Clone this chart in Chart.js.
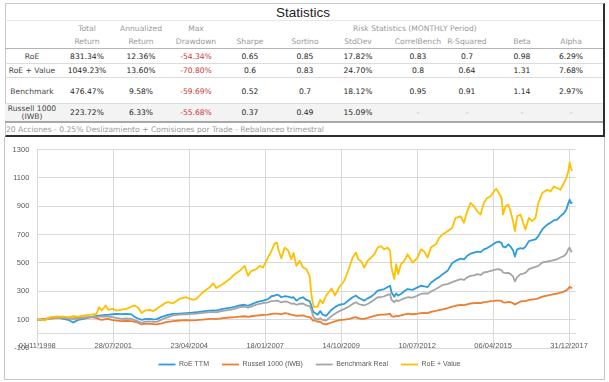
<!DOCTYPE html>
<html>
<head>
<meta charset="utf-8">
<script src="https://cdn.jsdelivr.net/npm/chart.js@4.4.1/dist/chart.umd.min.js"></script>
<style>
  html, body { margin:0; padding:0; background:#fff; width:609px; height:382px; overflow:hidden; }
  .t { position:absolute; font-family:"DejaVu Sans", sans-serif; font-size:7.6px; white-space:nowrap; text-align:center; }
  .hd { color:#9a9a9a; }
  .val { color:#1e1e1e; }
  .neg { color:#c93a3a; }
  .dash { color:#aaa; }
  .lbl { color:#444; }
  .ln { position:absolute; left:5px; width:598px; }
</style>
</head>
<body>
<div id="stats" style="position:absolute;left:5px;top:3px;width:597px;height:131px;border:1px solid #c8c8c8;border-right:2px solid #2e2e2e;border-bottom:2px solid #2e2e2e;"></div>
<div id="panel" style="position:absolute;left:4px;top:137px;width:599px;height:242px;border:1px solid #c4c4c4;border-top:none;"></div>
<div id="tbl"></div>
<canvas id="c" width="609" height="241" style="position:absolute;left:0;top:137px;"></canvas>
<script>
// ---------- table text ----------
const colX = [32, 87, 141, 196, 250, 305, 358, 418, 467, 522, 571];
const headTop = ['', 'Total', 'Annualized', 'Max', '', '', '', '', '', '', ''];
const headBottom = ['', 'Return', 'Return', 'Drawdown', 'Sharpe', 'Sortino', 'StdDev', 'CorrelBench', 'R-Squared', 'Beta', 'Alpha'];
const rowLabels = ['RoE', 'RoE + Value', 'Benchmark', 'Russell 1000<br>(IWB)'];
const statRows = [
  ['831.34%', '12.36%', '-54.34%', '0.65', '0.85', '17.82%', '0.83', '0.7', '0.98', '6.29%'],
  ['1049.23%', '13.60%', '-70.80%', '0.6', '0.83', '24.70%', '0.8', '0.64', '1.31', '7.68%'],
  ['476.47%', '9.58%', '-59.69%', '0.52', '0.7', '18.12%', '0.95', '0.91', '1.14', '2.97%'],
  ['223.72%', '6.33%', '-55.68%', '0.37', '0.49', '15.09%', '-', '-', '-', '-']
];
const footNote = '20 Acciones - 0.25% Deslizamiento + Comisiones por Trade - Rebalanceo trimestral';

// ---------- chart data ----------
const dates = [
 '1998-11-01','1998-12-20','1999-02-09','1999-04-16','1999-07-12','1999-10-08','1999-12-13','2000-02-16','2000-04-22','2000-07-19','2000-10-14','2000-12-20','2001-01-22','2001-02-24','2001-04-20','2001-05-22','2001-07-16','2001-09-09','2001-11-14','2002-01-18','2002-03-25','2002-05-08','2002-06-21','2002-08-07','2002-09-16','2002-11-21','2003-01-04','2003-02-20','2003-04-27','2003-06-06','2003-07-20','2003-09-23',
 '2003-12-16','2004-03-13','2004-06-09','2004-07-22','2004-10-18','2005-01-18','2005-03-03','2005-04-12','2005-07-09','2005-10-08','2005-12-13','2006-02-16','2006-04-23','2006-06-06','2006-07-20','2006-09-23','2006-11-06','2006-12-20','2007-02-24','2007-04-09','2007-05-22','2007-06-21','2007-07-16','2007-08-18','2007-10-01','2007-11-14','2007-12-27','2008-01-26','2008-03-03','2008-04-16','2008-05-30','2008-07-12','2008-08-25','2008-09-16','2008-10-08',
 '2008-10-23','2008-12-09','2009-01-11','2009-02-13','2009-03-29','2009-06-10','2009-07-23','2009-09-20','2009-11-24','2010-01-29','2010-03-14','2010-04-27','2010-05-26','2010-07-01','2010-08-14','2010-09-27','2010-11-10','2010-12-24','2011-02-06','2011-03-21','2011-05-04','2011-06-17','2011-07-20','2011-08-07','2011-09-13','2011-10-08','2011-11-03','2011-12-09','2012-01-22','2012-03-06','2012-05-11','2012-07-16','2012-08-29','2012-10-12','2012-11-25','2013-01-07','2013-03-14','2013-04-27','2013-06-10','2013-08-14',
 '2013-10-15','2013-11-28','2014-02-02','2014-03-18','2014-04-30','2014-06-13','2014-07-27','2014-09-09','2014-10-23','2014-12-05','2015-01-18','2015-03-03','2015-04-16','2015-05-15','2015-06-21','2015-07-27','2015-08-14','2015-09-16','2015-10-23','2015-11-21','2015-12-24','2016-01-18','2016-02-16','2016-04-01','2016-05-04','2016-06-06','2016-07-20','2016-09-02','2016-10-15','2016-11-21','2017-01-11','2017-03-18','2017-04-30','2017-06-13','2017-07-27','2017-09-09','2017-10-23','2017-11-25','2017-12-20','2018-01-07','2018-01-26','2018-02-09'
];
const roeTTM = [
 100,101,104,110,118,106,99,80,98,108,120,126,128,130,133,134,138,141,139,140,137,118,108,99,104,106,102,104,120,126,134,141,
 143,146,150,152,158,164,166,164,176,183,190,200,205,198,208,223,228,234,245,265,270,276,272,258,265,262,255,258,234,250,258,239,230,200,160,
 150,135,160,135,127,170,188,205,211,240,258,270,255,246,234,250,262,280,304,310,316,330,339,293,262,285,270,281,300,316,310,328,339,335,330,360,386,400,421,444,
 500,514,530,525,550,565,572,580,576,596,605,619,635,645,650,640,615,610,631,615,590,545,596,605,600,615,654,660,666,689,736,770,783,800,806,830,850,876,920,946,922,931
];
const russell1000 = [
 100,101,104,106,112,113,110,108,112,116,118,110,104,99,104,106,96,93,90,92,90,85,78,66,72,70,68,66,74,80,84,90,
 94,96,95,96,100,106,106,104,110,115,118,122,124,120,124,128,131,133,135,140,142,142,140,138,146,143,136,132,126,128,130,122,118,108,92,
 96,85,86,72,66,80,88,96,100,106,112,118,110,106,106,112,120,126,132,135,136,138,141,125,120,128,124,130,136,142,138,142,146,148,146,155,162,168,172,182,
 192,198,204,202,208,214,216,218,216,224,226,230,232,234,234,232,222,220,226,224,215,206,215,228,230,230,240,242,244,250,262,270,274,280,284,290,298,306,318,332,325,324
];
const benchmarkReal = [
 100,101,106,111,112,113,108,106,108,113,118,120,121,122,122,122,118,113,106,108,106,95,88,76,86,88,85,84,100,110,118,130,
 136,138,140,142,148,153,155,152,162,169,176,188,192,185,192,206,212,216,222,230,232,234,230,222,228,225,212,215,205,212,214,200,196,170,130,
 112,100,110,98,94,125,141,160,176,195,211,223,212,205,200,210,225,240,258,258,265,275,281,240,223,238,230,240,250,258,255,270,281,285,283,298,316,330,345,351,
 365,374,385,380,398,409,412,421,415,433,436,444,450,455,456,448,433,428,430,421,405,370,400,421,425,430,456,465,472,479,503,510,514,520,526,538,549,565,596,608,584,576
];
const roeValue = [
 100,101,94,118,122,121,118,125,122,130,136,141,188,164,200,169,176,164,170,176,192,200,183,146,164,169,160,176,200,216,223,215,
 246,258,239,245,293,328,356,323,351,386,421,444,479,409,444,456,479,468,538,584,636,643,584,533,608,590,526,570,479,514,468,456,409,281,210,
 188,192,240,215,270,320,270,330,374,468,538,573,526,514,468,514,538,561,608,619,596,608,584,468,386,491,421,491,514,561,503,538,596,580,538,608,631,678,701,724,
 748,818,829,783,864,923,900,864,841,923,958,970,1004,1023,993,958,841,900,911,864,794,724,829,841,783,736,818,794,818,923,993,1016,1004,1039,1028,1016,1063,1098,1144,1210,1168,1149
];
const seriesNames = ['RoE TTM', 'Russell 1000 (IWB)', 'Benchmark Real', 'RoE + Value'];
const yTicks = { min: -100, max: 1300, step: 200 };
const xTickStartDate = '1998-11-01';
const xTickStepDays = 1000;
const xTickCount = 8;
const xAxisEndDays = 7087;

// ---------- build table DOM ----------
const tbl = document.getElementById('tbl');
function put(html, cx, cy, cls, lh, align) {
  const d = document.createElement('div');
  d.className = 't ' + cls;
  d.innerHTML = html;
  lh = lh || 10;
  const lines = (html.match(/<br>/g) || []).length + 1;
  d.style.lineHeight = lh + 'px';
  d.style.top = (cy - lh * lines / 2) + 'px';
  if (align === 'left') { d.style.left = cx + 'px'; d.style.textAlign = 'left'; }
  else { d.style.left = (cx - 60) + 'px'; d.style.width = '120px'; }
  tbl.appendChild(d);
}
function hline(y, h, color) {
  const d = document.createElement('div');
  d.className = 'ln';
  d.style.top = y + 'px'; d.style.height = h + 'px'; d.style.background = color;
  tbl.appendChild(d);
}
(function(){ const d = document.createElement('div'); d.className='ln'; d.style.top='104px'; d.style.height='17px'; d.style.background='#f3f3f3'; tbl.appendChild(d); })();
hline(20, 1, '#e6e6e6');
hline(48, 1, '#b5b5b5');
hline(63, 1, '#dcdcdc');
hline(77, 1, '#dcdcdc');
hline(103, 1, '#dcdcdc');
hline(121, 2, '#a8a8a8');

const title = document.createElement('div');
title.textContent = 'Statistics';
title.style.cssText = 'position:absolute;left:203px;width:200px;text-align:center;top:5px;line-height:16px;font-family:"Liberation Sans",Arial,sans-serif;font-size:13.5px;color:#222;';
tbl.appendChild(title);

put('Risk Statistics (MONTHLY Period)', 413, 28.5, 'hd');
headTop.forEach((h, i) => { if (h) put(h, colX[i], 29, 'hd'); });
headBottom.forEach((h, i) => { if (h) put(h, colX[i], 42.3, 'hd'); });
const rowY = [56.7, 71, 91.7, 113];
rowLabels.forEach((l, r) => put(l, colX[0], rowY[r], 'lbl', l.includes('<br>') ? 8 : 10));
statRows.forEach((row, r) => row.forEach((v, i) => {
  const cls = v === '-' ? 'dash' : (v.startsWith('-') ? 'neg' : 'val');
  put(v, colX[i + 1], rowY[r], cls);
}));
put(footNote, 6, 130, 'hd', 10, 'left');

// ---------- chart ----------
const DAY = 86400000;
function toMs(s) { const p = s.split('-').map(Number); return Date.UTC(p[0], p[1] - 1, p[2]); }
const t0 = toMs(xTickStartDate);
const xs = dates.map(toMs);
function pts(arr) { return arr.map((v, i) => ({ x: xs[i], y: v })); }
function fmt(ms) {
  const d = new Date(ms);
  const dd = String(d.getUTCDate()).padStart(2, '0');
  const mm = String(d.getUTCMonth() + 1).padStart(2, '0');
  return dd + '/' + mm + '/' + d.getUTCFullYear();
}
const colors = ['#2E9CDB', '#ED7D31', '#A5A5A5', '#FFC000'];
const values = [roeTTM, russell1000, benchmarkReal, roeValue];
const gridColor = '#d9d9d9';
const tickFont = { family: '"Liberation Sans", Arial, sans-serif', size: 7.5 };

new Chart(document.getElementById('c'), {
  type: 'line',
  data: {
    datasets: values.map((arr, i) => ({
      label: seriesNames[i],
      data: pts(arr),
      borderColor: colors[i],
      backgroundColor: colors[i],
      borderWidth: 1.8,
      pointRadius: 0,
      tension: 0,
      order: 3 - i,
      borderJoinStyle: 'round'
    }))
  },
  options: {
    responsive: false,
    animation: false,
    devicePixelRatio: 1,
    layout: { padding: { left: 10, right: 0, top: 10.7, bottom: 0 } },
    plugins: {
      tooltip: { enabled: false },
      legend: {
        position: 'bottom',
        labels: {
          usePointStyle: true,
          pointStyle: 'line',
          pointStyleWidth: 17,
          boxHeight: 7,
          padding: 13,
          color: '#595959',
          font: { family: '"Liberation Sans", Arial, sans-serif', size: 7 },
          sort: (a, b) => a.datasetIndex - b.datasetIndex
        }
      }
    },
    scales: {
      x: {
        type: 'linear',
        position: { y: 0 },
        min: t0,
        max: t0 + xAxisEndDays * DAY,
        afterBuildTicks: (s) => {
          s.ticks = Array.from({ length: xTickCount }, (_, k) => ({ value: t0 + k * xTickStepDays * DAY }));
        },
        ticks: {
          autoSkip: false, maxRotation: 0, minRotation: 0, padding: 8,
          color: '#595959', font: tickFont,
          callback: (v) => fmt(v)
        },
        grid: { color: gridColor, drawTicks: false, lineWidth: 1 },
        border: { color: gridColor }
      },
      y: {
        min: yTicks.min, max: yTicks.max,
        ticks: { stepSize: yTicks.step, padding: 8, color: '#595959', font: tickFont, callback: (v) => String(v) },
        grid: { color: gridColor, drawTicks: false, lineWidth: 1 },
        border: { color: gridColor },
        afterFit: (s) => { s.width = 27.3; }
      },
      yRight: {
        position: 'right',
        ticks: { display: false },
        grid: { display: false, drawTicks: false },
        border: { display: false },
        afterFit: (s) => { s.width = 33.3; }
      }
    }
  }
});
</script>
</body>
</html>
